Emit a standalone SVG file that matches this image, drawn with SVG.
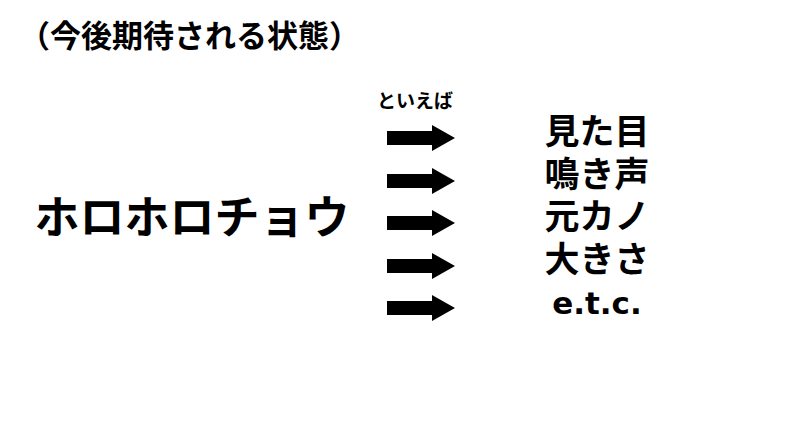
<svg xmlns="http://www.w3.org/2000/svg" xmlns:xlink="http://www.w3.org/1999/xlink" width="794" height="447" viewBox="0 0 794 447">
<style>
.t{font-family:"Noto Sans CJK JP","Noto Sans",sans-serif;font-weight:700;fill:#000}
.big{font-size:35px;text-anchor:middle}
</style>
<defs>
<polygon id="arr" points="387,-7 432,-7 432,-13 455,0 432,13 432,7 387,7" fill="#000"/>
</defs>
<rect width="794" height="447" fill="#fff"/>
<g id="title"><text class="t" x="19" y="47" font-size="31">（今後期待される状態）</text></g>
<g id="subject"><text class="t" x="192" y="234" font-size="45" text-anchor="middle">ホロホロチョウ</text></g>
<g id="label"><text class="t" x="415" y="108" font-size="19" text-anchor="middle">といえば</text></g>
<g id="connectors">
<use xlink:href="#arr" y="138"/>
<use xlink:href="#arr" y="181"/>
<use xlink:href="#arr" y="223"/>
<use xlink:href="#arr" y="266"/>
<use xlink:href="#arr" y="308"/>
</g>
<g id="item1"><text class="t big" x="597" y="144">見た目</text></g>
<g id="item2"><text class="t big" x="597" y="187">鳴き声</text></g>
<g id="item3"><text class="t big" x="597" y="229">元カノ</text></g>
<g id="item4"><text class="t big" x="597" y="272">大きさ</text></g>
<g id="item5"><text class="t big" x="597" y="314" style="font-family:'DejaVu Sans',sans-serif;font-size:31px">e.t.c.</text></g>
</svg>
